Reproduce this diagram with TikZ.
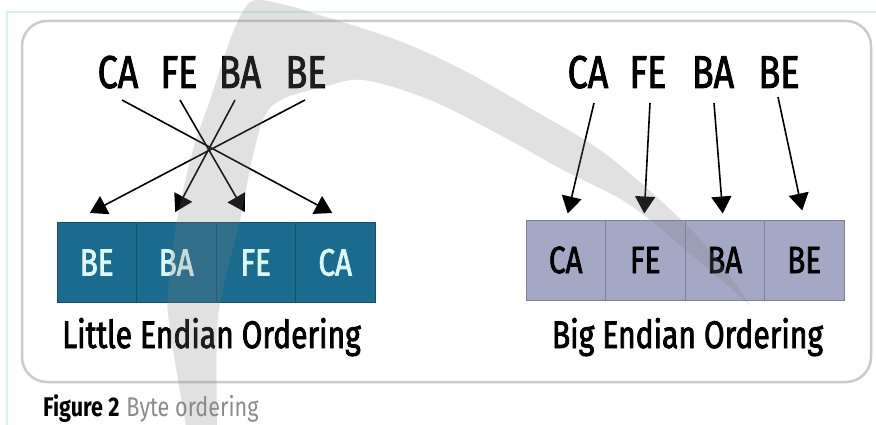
\documentclass[tikz,border=0pt]{standalone}
\usepackage{fontspec}
\setmainfont{Fira Sans}[FakeStretch=0.8]
\newfontfamily\semib{Fira Sans}[FakeStretch=0.78, FakeBold=2]
\newfontfamily\capbold{Fira Sans Bold}[FakeStretch=0.8]
\usetikzlibrary{arrows.meta,calc}

\definecolor{leteal}{HTML}{1B6B8E}
\definecolor{letealdark}{HTML}{13506B}
\definecolor{cellink}{HTML}{DDF6F6}
\definecolor{belav}{HTML}{A5A8C5}
\definecolor{belavdark}{HTML}{7E819E}
\definecolor{framegray}{HTML}{CBCBCB}
\definecolor{paleblue}{HTML}{DCEFF7}
\definecolor{capgray}{HTML}{8C8C8C}

\begin{document}
\begin{tikzpicture}[x=1pt,y=-1pt,
  bytelab/.style={font=\semib\fontsize{46}{46}\selectfont, inner sep=0pt, anchor=base},
  cellbase/.style={minimum width=79.5pt, minimum height=80pt, inner sep=0pt,
                   line width=1pt, font=\semib\fontsize{38}{38}\selectfont},
  cellL/.style={cellbase, draw=letealdark, fill=leteal, text=cellink},
  cellB/.style={cellbase, draw=belavdark, fill=belav, text=black},
  ordlab/.style={font=\semib\fontsize{38.5}{38.5}\selectfont, inner sep=0pt, anchor=base},
  arr/.style={line width=1.6pt, -{Triangle[length=17pt,width=20pt]}},
]
\useasboundingbox (0,0) rectangle (876,425);
\fill[white] (0,0) rectangle (876,425);

% page edge rules
\draw[paleblue, line width=1.2pt] (7,425) -- (7,12) -- (876,12);

% outer frame
\draw[framegray, line width=2.5pt, rounded corners=25pt] (22,21) rectangle (871,382);

% little endian cells
\node[cellL] (c1) at (96.75,262.5) {BE};
\node[cellL] (c2) at (176.25,262.5) {BA};
\node[cellL] (c3) at (255.75,262.5) {FE};
\node[cellL] (c4) at (335.25,262.5) {CA};

% big endian cells
\node[cellB] (c5) at (565.75,260) {CA};
\node[cellB] (c6) at (645.25,260) {FE};
\node[cellB] (c7) at (724.75,260) {BA};
\node[cellB] (c8) at (804.25,260) {BE};

% byte labels, little endian side
\node[bytelab] (lca) at (118,88) {CA};
\node[bytelab] (lfe) at (179,88) {FE};
\node[bytelab] (lba) at (240,88) {BA};
\node[bytelab] (lbe) at (306,88) {BE};

% byte labels, big endian side
\node[bytelab] (rca) at (588,88) {CA};
\node[bytelab] (rfe) at (648,88) {FE};
\node[bytelab] (rba) at (713,88) {BA};
\node[bytelab] (rbe) at (779,88) {BE};

% crossing arrows
\draw[arr] ($(lca.base)+(4,12)$) -- ($(c4.north)+(-3,-9)$);
\draw[arr] ($(lfe.base)+(1,12)$) -- ($(c3.north)+(-11,-10)$);
\draw[arr] ($(lba.base)+(-5,12)$) -- ($(c2.north)+(-1,-10)$);
\draw[arr] ($(lbe.base)+(-1,12)$) -- ($(c1.north)+(-7,-9)$);

% straight arrows
\draw[arr] ($(rca.base)+(6,15)$) -- ($(c5.north)+(2,-6)$);
\draw[arr] ($(rfe.base)+(2,15)$) -- ($(c6.north)+(-1,-6)$);
\draw[arr] ($(rba.base)+(1,15)$) -- ($(c7.north)+(-2,-6)$);
\draw[arr] ($(rbe.base)+(-1,9)$) -- ($(c8.north)+(-2,-9)$);

% ordering titles
\node[ordlab] (tl) at (211.5,348) {Little Endian Ordering};
\node[ordlab] (tb) at (687.5,348) {Big Endian Ordering};

% caption
\node[anchor=base west, inner sep=0pt, font=\fontsize{27}{27}\selectfont] (cap) at (43,416)
  {{\capbold Figure 2}\hspace{7pt}\textcolor{capgray}{Byte ordering}};

% grey swoosh over the figure
\fill[black!50, fill opacity=0.23]
  plot[smooth, tension=0.55] coordinates {(187,432) (170,330) (168,290) (177,220) (193,150)
       (210,100) (230,40) (245,8) (258,0) (290,6) (313,13) (397,40) (463,70) (530,108)
       (600,150) (660,200) (710,250) (750,305)}
  -- plot[smooth, tension=0.55] coordinates {(750,305) (700,262) (630,205) (563,170)
       (500,135) (430,100) (363,80) (320,88) (285,98) (265,115) (252,160) (240,220)
       (225,280) (217,330) (217,432)}
  -- cycle;
\end{tikzpicture}
\end{document}
